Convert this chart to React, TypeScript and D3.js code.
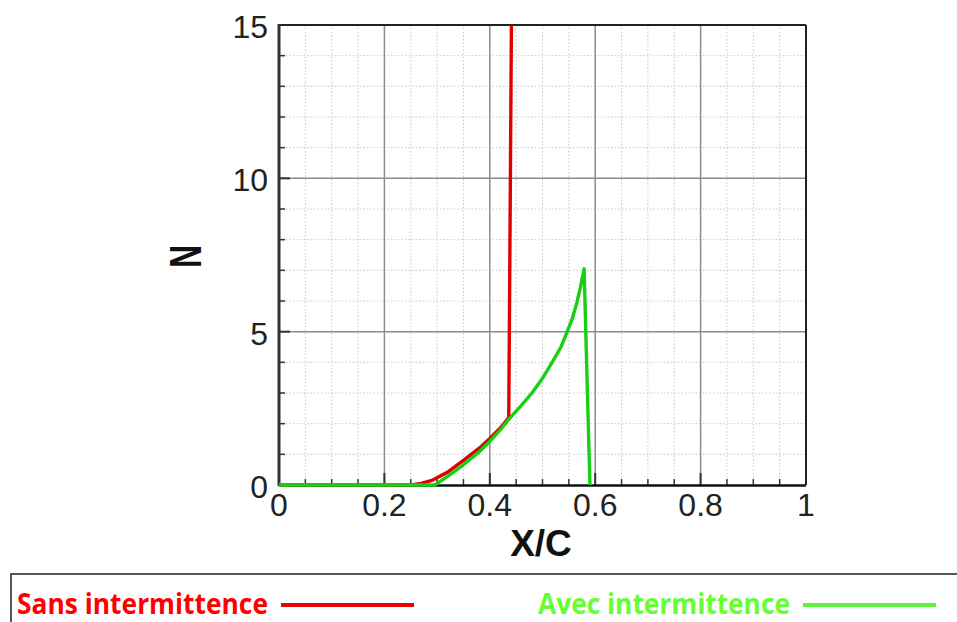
import React from "react";
import * as d3 from "d3";

const W = 957;
const H = 622;

// Data
const sansX = [0, 0.25, 0.27, 0.29, 0.32, 0.35, 0.38, 0.40, 0.42, 0.436, 0.441];
const sansN = [0, 0, 0.05, 0.15, 0.42, 0.8, 1.2, 1.52, 1.86, 2.2, 15];

const avecX = [0, 0.295, 0.30, 0.32, 0.35, 0.38, 0.40, 0.42, 0.44, 0.46, 0.48, 0.50, 0.52, 0.535, 0.546, 0.556, 0.565, 0.572, 0.579, 0.584, 0.590];
const avecN = [0, 0, 0.05, 0.28, 0.66, 1.08, 1.42, 1.8, 2.22, 2.6, 3.0, 3.48, 4.05, 4.5, 4.96, 5.4, 5.93, 6.45, 7.05, 3.8, 0];

const xTicks = [0, 0.2, 0.4, 0.6, 0.8, 1];
const xTickLabels = ["0", "0.2", "0.4", "0.6", "0.8", "1"];
const yTicks = [0, 5, 10, 15];
const yTickLabels = ["0", "5", "10", "15"];
const legendLabels = ["Sans intermittence", "Avec intermittence"];

const left = 279, right = 806, top = 25, bottom = 485;

export default function App() {
  const x = d3.scaleLinear().domain([0, 1]).range([left, right]);
  const y = d3.scaleLinear().domain([0, 15]).range([bottom, top]);

  const minorX = d3.range(0, 1.0001, 0.05).filter((v) => Math.abs(v / 0.2 - Math.round(v / 0.2)) > 1e-6);
  const minorY = d3.range(0, 15.0001, 1).filter((v) => v % 5 !== 0);

  const line = d3.line<[number, number]>().x((d) => x(d[0])).y((d) => y(d[1]));
  const sansPts: [number, number][] = sansX.map((v, i) => [v, sansN[i]]);
  const avecPts: [number, number][] = avecX.map((v, i) => [v, avecN[i]]);

  const tickFont = "'Liberation Sans', Arial, sans-serif";
  const legendFont = "'Open Sans', 'Noto Sans', sans-serif";

  return (
    <svg width={W} height={H} style={{ position: "absolute", left: 0, top: 0, background: "#fff" }}>
      <rect x={0} y={0} width={W} height={H} fill="#fff" />
      <defs>
        <clipPath id="plotclip">
          <rect x={left} y={top} width={right - left} height={bottom - top + 4} />
        </clipPath>
      </defs>
      {/* minor grid */}
      {minorX.map((v) => (
        <line key={"mx" + v} x1={x(v)} x2={x(v)} y1={top} y2={bottom} stroke="#c8c8c8" strokeWidth={1} strokeDasharray="1.5,2" />
      ))}
      {minorY.map((v) => (
        <line key={"my" + v} x1={left} x2={right} y1={y(v)} y2={y(v)} stroke="#c8c8c8" strokeWidth={1} strokeDasharray="1.5,2" />
      ))}
      {/* major grid */}
      {xTicks.slice(1, -1).map((v) => (
        <line key={"gx" + v} x1={x(v)} x2={x(v)} y1={top} y2={bottom} stroke="#8c8c8c" strokeWidth={1.5} />
      ))}
      {yTicks.slice(1, -1).map((v) => (
        <line key={"gy" + v} x1={left} x2={right} y1={y(v)} y2={y(v)} stroke="#8c8c8c" strokeWidth={1.5} />
      ))}
      {/* ticks */}
      {xTicks.map((v) => (
        <line key={"tx" + v} x1={x(v)} x2={x(v)} y1={bottom} y2={bottom - 12} stroke="#333" strokeWidth={2} />
      ))}
      {minorX.map((v) => (
        <line key={"tmx" + v} x1={x(v)} x2={x(v)} y1={bottom} y2={bottom - 6} stroke="#333" strokeWidth={1.5} />
      ))}
      {yTicks.map((v) => (
        <line key={"ty" + v} x1={left} x2={left + 11} y1={y(v)} y2={y(v)} stroke="#333" strokeWidth={2} />
      ))}
      {minorY.map((v) => (
        <line key={"tmy" + v} x1={left} x2={left + 6} y1={y(v)} y2={y(v)} stroke="#333" strokeWidth={1.5} />
      ))}
      {/* frame */}
      <line x1={left} x2={right} y1={top} y2={top} stroke="#222" strokeWidth={2} />
      <line x1={right} x2={right} y1={top} y2={bottom} stroke="#222" strokeWidth={2} />
      <line x1={left} x2={right} y1={bottom + 0.5} y2={bottom + 0.5} stroke="#111" strokeWidth={2.5} />
      <line x1={left} x2={left} y1={top - 1} y2={bottom + 1} stroke="#333" strokeWidth={3} />
      {/* curves */}
      <g clipPath="url(#plotclip)">
        <path d={line(sansPts) || ""} fill="none" stroke="#e00000" strokeWidth={3.4} strokeLinejoin="round" />
        <path d={line(avecPts) || ""} fill="none" stroke="#16d016" strokeWidth={3.4} strokeLinejoin="round" />
      </g>
      {/* tick labels */}
      {xTicks.map((v, i) => (
        <text key={"lx" + v} x={x(v)} y={516} textAnchor="middle" fontFamily={tickFont} fontSize={32} fill="#222">
          {xTickLabels[i]}
        </text>
      ))}
      {yTicks.map((v, i) => (
        <text key={"ly" + v} x={268} y={y(v) + 13} textAnchor="end" fontFamily={tickFont} fontSize={32} fill="#222">
          {yTickLabels[i]}
        </text>
      ))}
      {/* axis titles */}
      <text x={541} y={556} textAnchor="middle" fontFamily={tickFont} fontWeight="bold" fontSize={37} fill="#111">
        X/C
      </text>
      <g transform="translate(201,256.5) rotate(-90) scale(1,1.39)">
        <text x={0} y={0} textAnchor="middle" fontFamily={tickFont} fontWeight="bold" fontSize={32} fill="#111">
          N
        </text>
      </g>
      {/* legend */}
      <rect x={11} y={574} width={1000} height={100} fill="none" stroke="#222" strokeWidth={1.5} />
      <text x={17} y={614} fontFamily={legendFont} fontWeight="bold" fontSize={28} fill="#ff0000" textLength={251} lengthAdjust="spacingAndGlyphs">
        {legendLabels[0]}
      </text>
      <line x1={281} x2={414} y1={605} y2={605} stroke="#ee0000" strokeWidth={4} />
      <text x={538} y={614} fontFamily={legendFont} fontWeight="bold" fontSize={28} fill="#66ff33" textLength={252} lengthAdjust="spacingAndGlyphs">
        {legendLabels[1]}
      </text>
      <line x1={803} x2={936} y1={605} y2={605} stroke="#5ef03a" strokeWidth={4} />
    </svg>
  );
}
